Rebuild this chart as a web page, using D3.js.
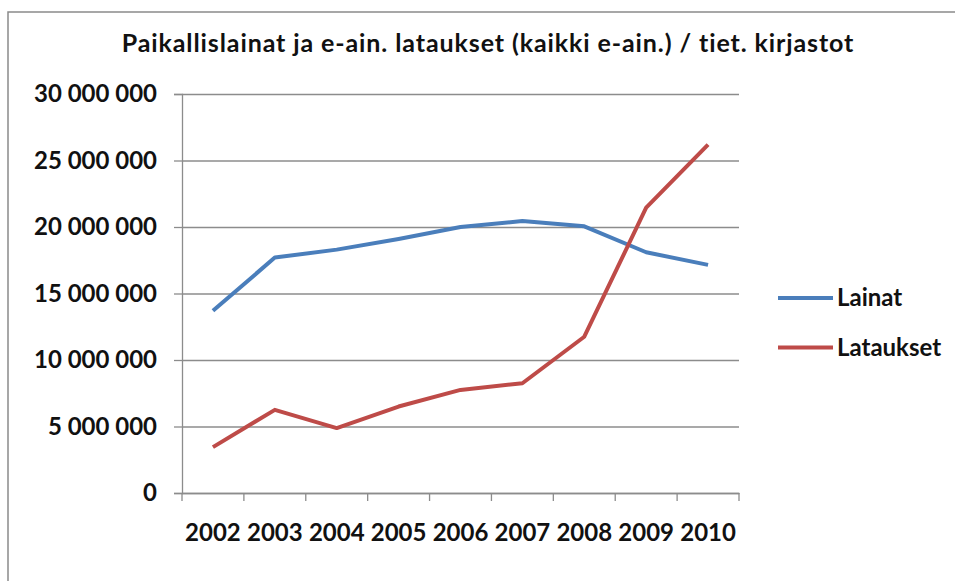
<!DOCTYPE html>
<html>
<head>
<meta charset="utf-8">
<script src="https://cdn.jsdelivr.net/npm/d3@7"></script>
<style>
  body { margin: 0; background: #fff; }
  text { font-family: Lato, "Open Sans", sans-serif; fill: #111; }
</style>
</head>
<body>
<div id="chart"></div>
<script>
// Set up conventions
let width = 955;
let height = 581;
let margin = ({top: 94, right: 216, bottom: 88, left: 182});

let years = ["2002", "2003", "2004", "2005", "2006", "2007", "2008", "2009", "2010"];
let lainat = [13700000, 17700000, 18300000, 19100000, 20000000, 20450000, 20050000, 18100000, 17150000];
let lataukset = [3450000, 6250000, 4880000, 6500000, 7750000, 8250000, 11750000, 21450000, 26200000];
let yTicks = [0, 5000000, 10000000, 15000000, 20000000, 25000000, 30000000];
let seriesNames = ["Lainat", "Lataukset"];
let seriesColors = ["#4a7ebb", "#be4b48"];

let fi = d3.formatLocale({decimal: ",", thousands: " ", grouping: [3], currency: ["", ""]});
let fmt = fi.format(",d");

let svg = d3.select("#chart")
    .append("svg")
    .attr("width", width)
    .attr("height", height)

// outer chart frame
svg.append("rect")
    .attr("x", 8)
    .attr("y", 12)
    .attr("width", width + 20)
    .attr("height", height + 20)
    .attr("fill", "#fff")
    .attr("stroke", "#8a8a8a")
    .attr("stroke-width", 1.5)

svg.append("text")
    .attr("x", 488)
    .attr("y", 52)
    .attr("text-anchor", "middle")
    .attr("font-size", 25)
    .attr("font-weight", 700)
    .attr("letter-spacing", 0.9)
    .text("Paikallislainat ja e-ain. lataukset (kaikki e-ain.) / tiet. kirjastot")

let xScale = d3.scaleBand()
    .domain(years)
    .range([margin.left, width - margin.right])

let yScale = d3.scaleLinear()
    .domain([0, 30000000])
    .range([height - margin.bottom, margin.top])

// gridlines
svg.append("g")
    .attr("class", "grid")
    .attr("transform", "translate(" + margin.left + ",0)")
    .call(d3.axisLeft(yScale).tickValues(yTicks).tickSize(-(width - margin.right - margin.left)).tickFormat(""))
    .call(g => g.select(".domain").remove())
    .selectAll("line")
    .attr("stroke", "#8c8c8c")
    .attr("stroke-width", 1.3)

// y axis
let yAxis = svg.append("g")
    .attr("class", "yaxis")
    .attr("transform", "translate(" + margin.left + ",0)")
    .call(d3.axisLeft(yScale).tickValues(yTicks).tickSize(8).tickPadding(17).tickFormat(fmt))
yAxis.selectAll("line, path").attr("stroke", "#8c8c8c").attr("stroke-width", 1.3)
yAxis.selectAll("text")
    .attr("font-size", 24)
    .attr("font-weight", 700)
    .attr("fill", "#111")
    .style("font-family", "Lato, sans-serif")

// x axis, ticks on band edges
let xAxis = svg.append("g")
    .attr("class", "xaxis")
    .attr("transform", "translate(0," + (height - margin.bottom) + ")")
    .call(d3.axisBottom(xScale).tickSize(0).tickPadding(31))
xAxis.select(".domain").attr("stroke", "#8c8c8c").attr("stroke-width", 1.3)
xAxis.selectAll("text")
    .attr("font-size", 24)
    .attr("font-weight", 700)
    .attr("fill", "#111")
    .style("font-family", "Lato, sans-serif")

let edges = years.map(d => xScale(d)).concat([xScale.range()[1]])
xAxis.selectAll(".edge")
    .data(edges)
    .enter()
    .append("line")
    .attr("class", "edge")
    .attr("x1", d => d)
    .attr("x2", d => d)
    .attr("y1", 0)
    .attr("y2", 8)
    .attr("stroke", "#8c8c8c")
    .attr("stroke-width", 1.3)

let line = d3.line()
    .x((d, i) => xScale(years[i]) + xScale.bandwidth() / 2)
    .y(d => yScale(d))

let series = [lainat, lataukset];

svg.selectAll(".line")
    .data(series)
    .enter()
    .append("path")
    .attr("class", "line")
    .attr("d", line)
    .attr("fill", "none")
    .attr("stroke", (d, i) => seriesColors[i])
    .attr("stroke-width", 4)
    .attr("stroke-linejoin", "round")

// legend
let legend = svg.selectAll(".legend")
    .data(seriesNames)
    .enter()
    .append("g")
    .attr("class", "legend")
    .attr("transform", (d, i) => "translate(778," + (298 + i * 49.5) + ")")

legend.append("line")
    .attr("x1", 0)
    .attr("x2", 55)
    .attr("stroke", (d, i) => seriesColors[i])
    .attr("stroke-width", 4)

legend.append("text")
    .attr("x", 59)
    .attr("y", 8)
    .attr("font-size", 24)
    .attr("font-weight", 700)
    .text(d => d)
</script>
</body>
</html>
